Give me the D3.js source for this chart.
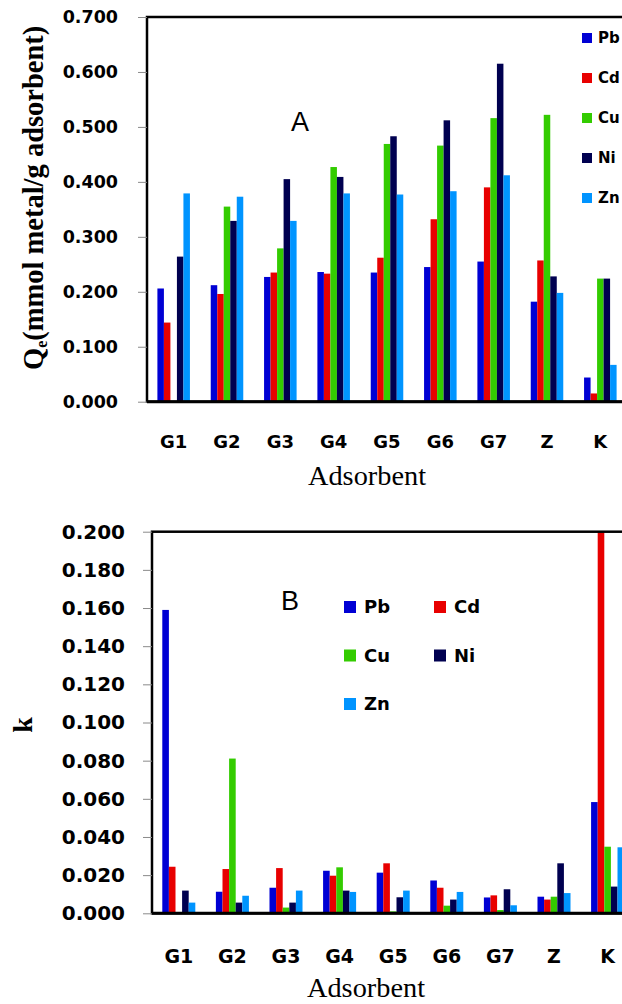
<!DOCTYPE html>
<html lang="en">
<head>
<meta charset="UTF-8" />
<title>Adsorption of metals – Qe and k</title>
<script src="https://d3js.org/d3.v7.min.js"></script>
<style>
  html, body { margin: 0; padding: 0; background: #fff; }
  svg { display: block; }
  .tick line { stroke: #8a8a8a; stroke-width: 1px; }
</style>
</head>
<body>
<svg id="chart"></svg>
<script>
// adsorbents (x categories) and metals (series)
const categories = ["G1", "G2", "G3", "G4", "G5", "G6", "G7", "Z", "K"];
const metals = ["Pb", "Cd", "Cu", "Ni", "Zn"];
const metalColors = ["#0000d4", "#e80000", "#33cc00", "#000050", "#0094ff"];

// panel A: Qe (mmol metal / g adsorbent)
const qePb = [0.206, 0.212, 0.227, 0.236, 0.235, 0.245, 0.255, 0.182, 0.044];
const qeCd = [0.144, 0.196, 0.235, 0.233, 0.262, 0.332, 0.390, 0.257, 0.015];
const qeCu = [0.000, 0.355, 0.279, 0.427, 0.469, 0.466, 0.516, 0.522, 0.224];
const qeNi = [0.264, 0.329, 0.405, 0.409, 0.483, 0.512, 0.615, 0.228, 0.224];
const qeZn = [0.379, 0.373, 0.329, 0.379, 0.377, 0.383, 0.412, 0.198, 0.067];
const qeTicks = [0, 0.1, 0.2, 0.3, 0.4, 0.5, 0.6, 0.7];

// panel B: rate constant k
const kPb = [0.159, 0.0113, 0.0134, 0.0223, 0.0213, 0.0172, 0.0083, 0.0087, 0.0583];
const kCd = [0.0244, 0.0232, 0.0237, 0.0197, 0.0262, 0.0134, 0.0094, 0.0072, 0.200];
const kCu = [0.000, 0.0811, 0.0030, 0.0241, 0.0010, 0.0040, 0.0017, 0.0087, 0.0349];
const kNi = [0.0119, 0.0056, 0.0056, 0.0119, 0.0084, 0.0072, 0.0126, 0.0262, 0.0140];
const kZn = [0.0056, 0.0092, 0.0119, 0.0112, 0.0119, 0.0112, 0.0042, 0.0106, 0.0346];
const kTicks = [0, 0.02, 0.04, 0.06, 0.08, 0.1, 0.12, 0.14, 0.16, 0.18, 0.2];

const W = 622, H = 1004;
const svg = d3.select("#chart").attr("width", W).attr("height", H);
const color = d3.scaleOrdinal().domain(metals).range(metalColors);

function drawPanel(p) {
  const g = svg.append("g");
  const x0 = d3.scaleBand().domain(categories)
    .range([p.left, p.right]).paddingInner(p.pad).paddingOuter(p.pad / 2);
  const x1 = d3.scaleBand().domain(metals).range([0, x0.bandwidth()]);
  const y = d3.scaleLinear().domain([0, p.yMax]).range([p.bottom, p.top]);

  const rows = categories.map((c, i) => ({
    cat: c,
    vals: metals.map((m, j) => ({ metal: m, v: p.series[j][i] }))
  }));

  g.selectAll("g.grp").data(rows).join("g")
    .attr("class", "grp")
    .attr("transform", d => `translate(${x0(d.cat)},0)`)
    .selectAll("rect").data(d => d.vals).join("rect")
    .attr("x", d => x1(d.metal))
    .attr("width", x1.bandwidth())
    .attr("y", d => y(d.v))
    .attr("height", d => y(0) - y(d.v))
    .attr("fill", d => color(d.metal));

  // frame: top line, left axis line, thick base line (right side runs off the page)
  g.append("rect")
    .attr("x", p.left).attr("y", p.top)
    .attr("width", p.right - p.left).attr("height", p.bottom - p.top)
    .attr("fill", "none").attr("stroke", "#000").attr("stroke-width", 2.5);
  g.append("line")
    .attr("x1", p.left).attr("x2", p.right).attr("y1", p.bottom).attr("y2", p.bottom)
    .attr("stroke", "#000").attr("stroke-width", 3);

  const yAxis = g.append("g")
    .attr("transform", `translate(${p.left},0)`)
    .call(d3.axisLeft(y).tickValues(p.ticks).tickSize(9).tickPadding(p.yPad)
      .tickFormat(d3.format(".3f")));
  yAxis.select(".domain").remove();
  yAxis.selectAll("text")
    .attr("font-family", "DejaVu Sans, sans-serif")
    .attr("font-weight", "bold")
    .attr("font-size", p.yFont)
    .attr("fill", "#000");

  const xAxis = g.append("g")
    .attr("transform", `translate(0,${p.bottom})`)
    .call(d3.axisBottom(x0).tickSize(0).tickPadding(p.xPad));
  xAxis.select(".domain").remove();
  xAxis.selectAll("text")
    .attr("font-family", "DejaVu Sans, sans-serif")
    .attr("font-weight", "bold")
    .attr("font-size", p.xFont)
    .attr("fill", "#000");

  g.append("text")
    .attr("x", p.titleX).attr("y", p.titleY)
    .attr("text-anchor", "middle")
    .attr("font-family", "Liberation Serif, serif")
    .attr("font-size", 27)
    .attr("textLength", 118)
    .attr("lengthAdjust", "spacingAndGlyphs")
    .text("Adsorbent");

  g.append("text")
    .attr("x", p.tagX).attr("y", p.tagY)
    .attr("text-anchor", "middle")
    .attr("font-family", "Liberation Sans, Arial, sans-serif")
    .attr("font-size", 27)
    .text(p.tag);

  return g;
}

const gA = drawPanel({
  top: 17, bottom: 401.7, left: 147, right: 627, pad: 0.39,
  yMax: 0.7, ticks: qeTicks, series: [qePb, qeCd, qeCu, qeNi, qeZn],
  yPad: 20, yFont: 17.5, xPad: 33.5, xFont: 18,
  titleX: 367, titleY: 485, tag: "A", tagX: 300, tagY: 131
});

const gB = drawPanel({
  top: 531.7, bottom: 913.3, left: 152, right: 634.4, pad: 0.384,
  yMax: 0.2, ticks: kTicks, series: [kPb, kCd, kCu, kNi, kZn],
  yPad: 18, yFont: 20, xPad: 36, xFont: 19,
  titleX: 366, titleY: 997, tag: "B", tagX: 290, tagY: 610
});

// y titles
const qeTitle = gA.append("text")
  .attr("transform", "translate(43,370) rotate(-90)")
  .attr("font-family", "Liberation Serif, serif")
  .attr("font-weight", "bold")
  .attr("font-size", 28.5);
qeTitle.append("tspan").text("Q");
qeTitle.append("tspan").attr("font-size", 16).attr("dy", 4).text("e");
qeTitle.append("tspan").attr("dy", -4).text("(mmol metal/g adsorbent)");

gB.append("text")
  .attr("transform", "translate(32,725) rotate(-90)")
  .attr("text-anchor", "middle")
  .attr("font-family", "Liberation Serif, serif")
  .attr("font-weight", "bold")
  .attr("font-size", 28)
  .text("k");

// legend A: single column at the right edge
const legA = gA.append("g").selectAll("g").data(metals).join("g")
  .attr("transform", (d, i) => `translate(582,${38 + i * 40})`);
legA.append("rect").attr("x", 0).attr("y", -5).attr("width", 10).attr("height", 10)
  .attr("fill", d => color(d));
legA.append("text").attr("x", 16).attr("dy", "0.36em")
  .attr("font-family", "DejaVu Sans, sans-serif").attr("font-weight", "bold")
  .attr("font-size", 15).text(d => d);

// legend B: two columns
const legB = gB.append("g").selectAll("g").data(metals).join("g")
  .attr("transform", (d, i) => `translate(${344 + (i % 2) * 90},${607 + Math.floor(i / 2) * 48.5})`);
legB.append("rect").attr("x", 0).attr("y", -6).attr("width", 12).attr("height", 12)
  .attr("fill", d => color(d));
legB.append("text").attr("x", 20).attr("dy", "0.36em")
  .attr("font-family", "DejaVu Sans, sans-serif").attr("font-weight", "bold")
  .attr("font-size", 18).text(d => d);
</script>
</body>
</html>
